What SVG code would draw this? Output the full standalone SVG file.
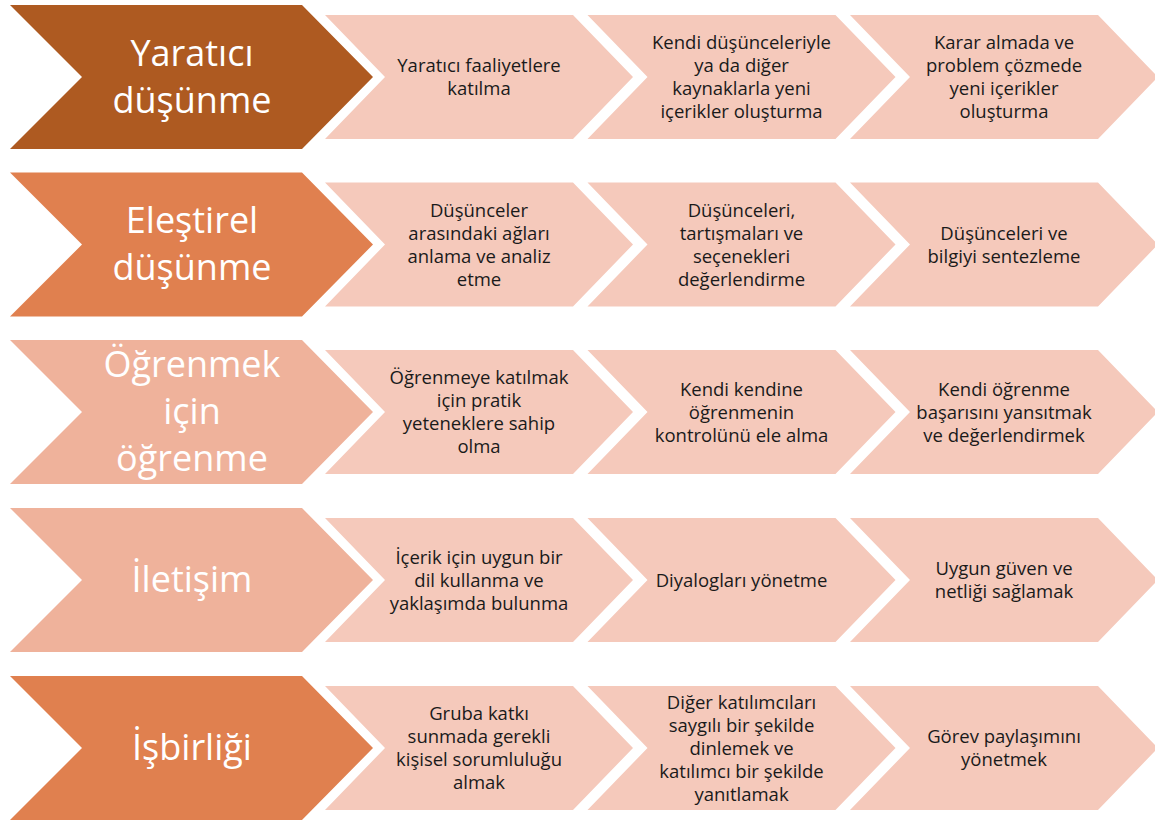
<svg xmlns="http://www.w3.org/2000/svg" xmlns:xlink="http://www.w3.org/1999/xlink" width="1155" height="821" viewBox="0 0 1155 821">
<style>
.big text{font-family:"Open Sans","Noto Sans",sans-serif;font-size:36px;fill:#ffffff;text-anchor:middle}
.sm text{font-family:"Open Sans","Noto Sans",sans-serif;font-size:18.5px;fill:#1a1a1a;text-anchor:middle}
.smf{fill:#F5C9BB}
</style>
<defs>
<path id="bigc" d="M10,-72 H302 L373,0 L302,72 H10 L82,0 Z"/>
<path id="smc" d="M0,-62 H248 L308,0 L248,62 H0 L60,0 Z"/>
</defs>
<rect width="1155" height="821" fill="#ffffff"/>
<g id="connectors"></g>

<!-- Row 1 -->
<g id="r1-main" class="big"><use href="#bigc" y="77" fill="#AE5A21"/><text x="192" y="65.5">Yaratıcı</text><text x="192" y="112.5">düşünme</text></g>
<g id="r1-s1" class="sm"><use href="#smc" x="325" y="77" class="smf"/><text x="479" y="72">Yaratıcı faaliyetlere</text><text x="479" y="95">katılma</text></g>
<g id="r1-s2" class="sm"><use href="#smc" x="587.5" y="77" class="smf"/><text x="741.5" y="49">Kendi düşünceleriyle</text><text x="741.5" y="72">ya da diğer</text><text x="741.5" y="95">kaynaklarla yeni</text><text x="741.5" y="118">içerikler oluşturma</text></g>
<g id="r1-s3" class="sm"><use href="#smc" x="850" y="77" class="smf"/><text x="1004" y="49">Karar almada ve</text><text x="1004" y="72">problem çözmede</text><text x="1004" y="95">yeni içerikler</text><text x="1004" y="118">oluşturma</text></g>

<!-- Row 2 -->
<g id="r2-main" class="big"><use href="#bigc" y="244.5" fill="#E0804F"/><text x="192" y="233">Eleştirel</text><text x="192" y="280">düşünme</text></g>
<g id="r2-s1" class="sm"><use href="#smc" x="325" y="244.5" class="smf"/><text x="479" y="216.5">Düşünceler</text><text x="479" y="239.5">arasındaki ağları</text><text x="479" y="262.5">anlama ve analiz</text><text x="479" y="285.5">etme</text></g>
<g id="r2-s2" class="sm"><use href="#smc" x="587.5" y="244.5" class="smf"/><text x="741.5" y="216.5">Düşünceleri,</text><text x="741.5" y="239.5">tartışmaları ve</text><text x="741.5" y="262.5">seçenekleri</text><text x="741.5" y="285.5">değerlendirme</text></g>
<g id="r2-s3" class="sm"><use href="#smc" x="850" y="244.5" class="smf"/><text x="1004" y="239.5">Düşünceleri ve</text><text x="1004" y="262.5">bilgiyi sentezleme</text></g>

<!-- Row 3 -->
<g id="r3-main" class="big"><use href="#bigc" y="412" fill="#EFB29B"/><text x="192" y="377">Öğrenmek</text><text x="192" y="424">için</text><text x="192" y="471">öğrenme</text></g>
<g id="r3-s1" class="sm"><use href="#smc" x="325" y="412" class="smf"/><text x="479" y="384">Öğrenmeye katılmak</text><text x="479" y="407">için pratik</text><text x="479" y="430">yeteneklere sahip</text><text x="479" y="453">olma</text></g>
<g id="r3-s2" class="sm"><use href="#smc" x="587.5" y="412" class="smf"/><text x="741.5" y="395.5">Kendi kendine</text><text x="741.5" y="418.5">öğrenmenin</text><text x="741.5" y="441.5">kontrolünü ele alma</text></g>
<g id="r3-s3" class="sm"><use href="#smc" x="850" y="412" class="smf"/><text x="1004" y="395.5">Kendi öğrenme</text><text x="1004" y="418.5">başarısını yansıtmak</text><text x="1004" y="441.5">ve değerlendirmek</text></g>

<!-- Row 4 -->
<g id="r4-main" class="big"><use href="#bigc" y="580" fill="#EFB29B"/><text x="192" y="592">İletişim</text></g>
<g id="r4-s1" class="sm"><use href="#smc" x="325" y="580" class="smf"/><text x="479" y="563.5">İçerik için uygun bir</text><text x="479" y="586.5">dil kullanma ve</text><text x="479" y="609.5">yaklaşımda bulunma</text></g>
<g id="r4-s2" class="sm"><use href="#smc" x="587.5" y="580" class="smf"/><text x="741.5" y="586.5">Diyalogları yönetme</text></g>
<g id="r4-s3" class="sm"><use href="#smc" x="850" y="580" class="smf"/><text x="1004" y="575">Uygun güven ve</text><text x="1004" y="598">netliği sağlamak</text></g>

<!-- Row 5 -->
<g id="r5-main" class="big"><use href="#bigc" y="748" fill="#E0804F"/><text x="192" y="760">İşbirliği</text></g>
<g id="r5-s1" class="sm"><use href="#smc" x="325" y="748" class="smf"/><text x="479" y="720">Gruba katkı</text><text x="479" y="743">sunmada gerekli</text><text x="479" y="766">kişisel sorumluluğu</text><text x="479" y="789">almak</text></g>
<g id="r5-s2" class="sm"><use href="#smc" x="587.5" y="748" class="smf"/><text x="741.5" y="708.5">Diğer katılımcıları</text><text x="741.5" y="731.5">saygılı bir şekilde</text><text x="741.5" y="754.5">dinlemek ve</text><text x="741.5" y="777.5">katılımcı bir şekilde</text><text x="741.5" y="800.5">yanıtlamak</text></g>
<g id="r5-s3" class="sm"><use href="#smc" x="850" y="748" class="smf"/><text x="1004" y="743">Görev paylaşımını</text><text x="1004" y="766">yönetmek</text></g>
</svg>
